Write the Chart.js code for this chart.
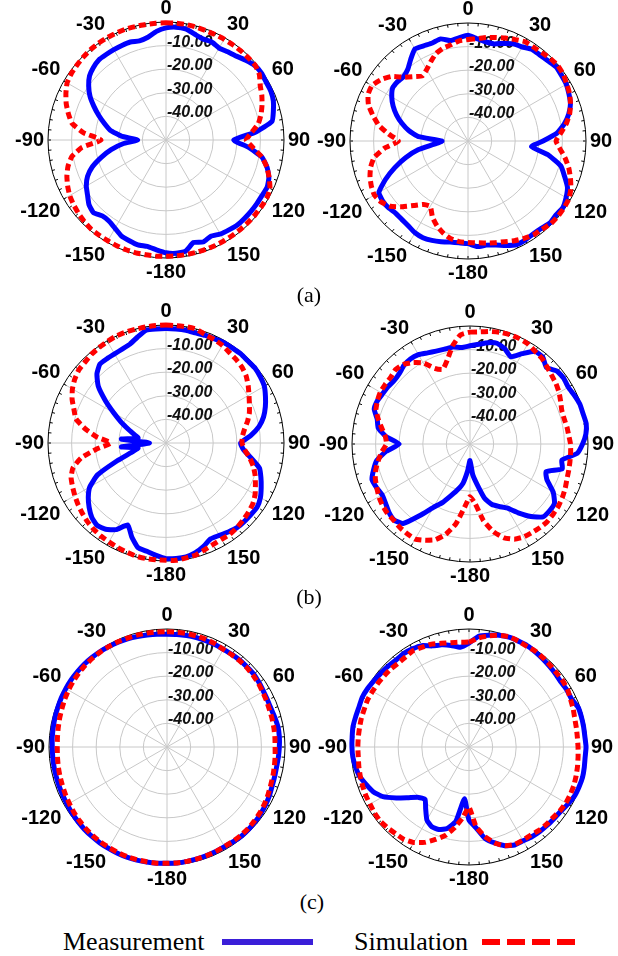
<!DOCTYPE html>
<html>
<head>
<meta charset="utf-8">
<script src="https://cdn.jsdelivr.net/npm/chart.js@4.4.1/dist/chart.umd.min.js"></script>
<style>
  html, body { margin: 0; padding: 0; background: #fff; }
  #page { position: relative; width: 618px; height: 956px; overflow: hidden; background: #fff; }
  .plot { position: absolute; width: 310px; height: 284px; }
  .caption { position: absolute; width: 60px; text-align: center; font-family: "Liberation Serif", "Times New Roman", serif; font-size: 22px; line-height: 22px; color: #000; }
  .legend-text { position: absolute; font-family: "Liberation Serif", "Times New Roman", serif; font-size: 26px; line-height: 26px; color: #000; }
  .legend-line { position: absolute; height: 6px; }
</style>
</head>
<body>
<div id="page">
  <canvas id="aLeft" class="plot" width="310" height="284" style="left:8px;top:-2px"></canvas>
  <canvas id="aRight" class="plot" width="310" height="284" style="left:310px;top:-1px"></canvas>
  <canvas id="bLeft" class="plot" width="310" height="284" style="left:8px;top:301px"></canvas>
  <canvas id="bRight" class="plot" width="310" height="284" style="left:312px;top:302px"></canvas>
  <canvas id="cLeft" class="plot" width="310" height="284" style="left:9px;top:605px"></canvas>
  <canvas id="cRight" class="plot" width="310" height="284" style="left:311px;top:605px"></canvas>

  <div class="caption" style="left:279px;top:284px">(a)</div>
  <div class="caption" style="left:279px;top:586px">(b)</div>
  <div class="caption" style="left:282px;top:891px">(c)</div>

  <div class="legend-text" style="left:63px;top:929px">Measurement</div>
  <div class="legend-line" style="left:222px;top:939px;width:91px;background:#3a1ed8"></div>
  <div class="legend-text" style="left:354px;top:929px">Simulation</div>
  <div class="legend-line" style="left:482px;top:939px;width:93px;background:repeating-linear-gradient(to right,#ff0000 0 18px,transparent 18px 25px)"></div>
</div>

<script>
// Angle axis: one sample every 5 degrees, clockwise from the top
const angleStep = 5;
const angleTickLabels = ['0', '30', '60', '90', '120', '150', '-180', '-150', '-120', '-90', '-60', '-30'];

// Radial axis (dB)
const radialMin = -50;
const radialMax = 0;
const radialTickValues = [-10, -20, -30, -40];
const radialTickLabels = radialTickValues.map(v => v.toFixed(2));

// (a) left
const aLeftMeas = [
  -2.5, -2, -2.2, -3.5, -4.4, -4.2, -5, -4.4, -3.6, -2.2, -0.9, -0.6,
  -1, -1, -1.6, -2.9, -4.4, -12, -21.3, -15, -8.8, -5.7, -3.6, -2.7,
  -3, -3, -3, -3, -3, -3.5, -4, -5, -4, -5, -2.2, -1.8,
  -2.2, -3.3, -4.2, -4, -4.6, -5.2, -6.8, -8, -8, -6.5, -7.4, -9.4,
  -11, -13.3, -16.8, -21.6, -26.4, -31.7, -38, -31, -26, -23, -19.7, -16.3,
  -12.8, -10, -7.7, -6.5, -5.7, -5.8, -5.8, -5.8, -5.8, -6.5, -5.8, -3.8
];
const aLeftSim = [
  -0.3, -0.3, -0.3, -0.5, -0.7, -0.7, -0.7, -0.7, -0.7, -0.7, -0.7, -1.7,
  -3.9, -5.2, -6.7, -8.3, -10.3, -13.6, -16, -13, -8.8, -5.8, -3.5, -1.4,
  -0.7, -0.7, -0.7, -0.7, -0.7, -0.7, -0.7, -0.7, -0.7, -0.7, -0.7, -0.7,
  -0.7, -0.6, -0.6, -0.5, -0.5, -0.6, -0.7, -0.7, -0.7, -1.1, -1.6, -2.2,
  -2.9, -4, -5.3, -7, -9.5, -14.3, -22.5, -15, -9.6, -7.2, -5, -3.2,
  -1.6, -1, -0.7, -0.4, -0.1, 0, 0, 0, 0, -0.2, -0.3, -0.3
];

// (a) right
const aRightMeas = [
  -5.2, -6.5, -7.3, -7.4, -6, -4.5, -4, -2.6, -2.5, -2, -1.2, -1.6,
  -1.9, -2.8, -3.8, -5.8, -8.6, -12.2, -18.2, -23, -15.3, -9.3, -6.5, -3.5,
  -2, -0.9, -1.3, -0.9, -1.7, -1.9, -1.5, -1.5, -2.9, -4.4, -5.2, -5.1,
  -6.5, -6.7, -6.5, -5.8, -5.2, -4.8, -5.1, -6, -6.5, -6.7, -6, -5.8,
  -6.4, -11.4, -17, -22.6, -28.5, -36, -39, -29, -24.5, -21, -17.8, -15,
  -12.7, -11, -11, -11.4, -10.3, -7.7, -5, -5.5, -5.8, -5.2, -6.8, -6.1
];
const aRightSim = [
  -7, -6.5, -5.5, -4.6, -3.6, -2.6, -1.5, -1.5, -1.2, -0.6, -0.3, -0.7,
  -1.7, -2.5, -3.8, -5.4, -7.7, -10.5, -12.7, -10.8, -8.2, -5.8, -3.8, -1.9,
  -0.7, -0.4, -0.3, -0.4, -1.2, -1.5, -2.4, -3.4, -4.6, -5.4, -6.1, -6.7,
  -7, -7.2, -8, -9.6, -11.7, -14.4, -18, -17.2, -14.3, -10.6, -7, -5,
  -4.2, -4.8, -5.8, -7.3, -9.6, -14.4, -20.5, -16.2, -11.6, -8.3, -5.1, -3.3,
  -3, -4.8, -7.5, -11.8, -14.4, -16.3, -15, -12.8, -10.5, -9.3, -8.6, -7.4
];

// (b) left
const bLeftMeas = [
  -1.5, -1.5, -1.5, -1.7, -1.5, -1.3, -0.9, -0.9, -0.7, -0.9, -0.7, -1.2,
  -1.9, -3.5, -5.2, -7.2, -10, -14, -18.4, -17, -13.4, -9, -7.2, -5.5,
  -3.8, -2.8, -2.9, -3, -3.2, -4, -4.8, -5.2, -3.4, -1.9, -1, -0.9,
  -1, -2.2, -3.4, -4.1, -7.6, -11.7, -7.6, -5.4, -4.5, -5.5, -7.5, -9.8,
  -12.7, -18, -28, -35, -38, -31, -43, -31, -38, -36, -33, -29,
  -24.4, -18.6, -12.5, -8.6, -6.4, -6.4, -6.4, -6.1, -5.4, -3.5, -1.5, -1.5
];
const bLeftSim = [
  0, -0.1, 0, -0.1, -1.2, -1.6, -2.2, -3.2, -3.8, -4.5, -5.7, -7.5,
  -9.4, -11, -12.4, -14.2, -16.2, -17.5, -17.8, -16.5, -14, -11.7, -9.8, -8.2,
  -6.4, -5.1, -4.4, -3.8, -3.2, -2.8, -2.9, -2.6, -1.9, -0.9, -0.6, -0.1,
  -0.3, -0.3, -0.3, -0.4, -0.9, -1.2, -1.6, -1.9, -2.3, -2.9, -3.7, -4.5,
  -5.4, -6.3, -7.2, -9.2, -13.5, -20.5, -26.6, -20.6, -15.2, -10.5, -8.5, -6.1,
  -4.2, -2.8, -1.8, -1.5, -0.9, -0.6, -0.3, 0, 0, -0.1, -0.1, 0
];

// (b) right
const bRightMeas = [
  -8.4, -7.6, -6.4, -5.8, -7, -9.2, -5.8, -2, -2, -4.2, -1.9, -1.5,
  -1.9, -1.2, -0.5, -0.4, 0, -0.7, -2.3, -4.4, -10.5, -9.5, -15.7, -14,
  -9.3, -6.3, -6, -6.3, -9.9, -14.4, -18.7, -20.8, -22.7, -26.2, -32.5, -37,
  -43, -38.6, -33.2, -30, -26.8, -22.7, -19, -13, -6, -4.5, -5.1, -6.3,
  -7, -6.3, -5.8, -7.7, -9.9, -14.3, -20, -14.3, -10.5, -9.3, -6.8, -6.7,
  -7.3, -7.6, -8.1, -7.7, -6.5, -6, -6.3, -7.4, -8.1, -8.4, -8.3, -9
];
const bRightSim = [
  -2.6, -2.3, -1.6, -1, -0.7, -0.7, -1, -2, -2.6, -3.8, -4.8, -5.5,
  -6.4, -7.6, -8.6, -8.7, -8.3, -8, -7.4, -7.2, -7, -6.7, -6.3, -5.5,
  -4.8, -4.2, -3.9, -3.6, -3.8, -4.2, -4.5, -5.5, -7.7, -11.5, -17, -24.5,
  -27.7, -23, -15.7, -10.4, -6.8, -5, -3.5, -3.6, -3.8, -4.3, -4.3, -4.7,
  -5.4, -6.4, -7.3, -8.7, -10.6, -12.5, -14.6, -14, -12.1, -9.8, -7.6, -6.7,
  -6.1, -6.1, -6.1, -5.4, -6, -7.9, -10.3, -14.6, -16.3, -13, -7.7, -3.6
];

// (c) left
const cLeftMeas = [
  -2.2, -2.1, -2, -2, -2, -2.1, -2.2, -2.1, -2, -2, -2, -2.4,
  -2.8, -3, -3, -2.6, -2.2, -2.2, -2.4, -2.6, -2.8, -2.7, -2.5, -2,
  -1.6, -1.3, -1, -0.9, -0.8, -1, -1.2, -1.1, -1, -0.9, -0.8, -0.7,
  -0.7, -0.6, -0.5, -0.4, -0.3, -0.3, -0.4, -0.4, -0.5, -0.6, -0.8, -1,
  -1.2, -1.3, -1.4, -1.4, -1.4, -1.4, -1.4, -1.2, -1.1, -0.9, -0.8, -0.6,
  -0.5, -0.4, -0.4, -0.4, -0.5, -0.6, -0.8, -1, -1.2, -1.5, -1.8, -2
];
const cLeftSim = [
  -1.2, -1.2, -1.2, -1.3, -1.5, -1.8, -2.2, -2.2, -2.2, -2.3, -2.5, -2.8,
  -3.2, -3.5, -3.8, -3.9, -4, -4.1, -4.2, -4, -3.8, -3.5, -3.2, -2.7,
  -2.2, -1.8, -1.5, -1.3, -1.2, -1.2, -1.3, -1.1, -1, -0.9, -0.8, -0.7,
  -0.7, -0.6, -0.6, -0.6, -0.6, -0.7, -0.8, -0.9, -1, -1.2, -1.5, -1.8,
  -2.2, -2.5, -2.8, -3, -3.2, -3.4, -3.5, -3.4, -3.2, -2.9, -2.6, -2.2,
  -1.8, -1.5, -1.2, -1, -0.9, -0.8, -0.8, -0.8, -0.9, -0.9, -1, -1.1
];

// (c) right
const cRightMeas = [
  -6, -2.9, -1.9, -1, -0.5, -0.5, -0.5, -0.9, -1.3, -1.7, -2, -2.3,
  -2, -2, -0.8, -0.7, -0.7, -0.7, -0.4, -0.6, -0.4, -0.2, -0.4, -0.7,
  -1.6, -2.5, -2.9, -3.1, -3.3, -3.6, -4.1, -4.2, -5.5, -7.9, -10.6, -15.6,
  -19, -28, -18, -14.3, -12.8, -12.7, -14.3, -18, -21, -19.8, -16.6, -12.4,
  -7.9, -5.2, -3.6, -2, -1.2, -0.6, -0.4, -0.3, -0.1, -0.3, -0.4, -0.1,
  -0.4, -0.9, -1.3, -1.6, -1.9, -1.7, -2, -2.6, -4.4, -5.2, -6.3, -7.6
];
const cRightSim = [
  -5.5, -3.6, -2.2, -1, -0.3, -0.5, -0.8, -0.6, -0.9, -1.2, -1.4, -1.4,
  -1.7, -2.5, -3, -3.6, -3.8, -3.9, -3.8, -3.6, -3.3, -3, -2.7, -2.6,
  -2.6, -2.9, -3.5, -3.6, -3.9, -4.4, -4.4, -4.4, -5.5, -7.9, -11.5, -16.3,
  -24.5, -20, -15.4, -11.2, -8.3, -5.4, -3.3, -2.2, -1.9, -1.4, -1, -1.2,
  -1.6, -1.7, -2, -2.3, -2.6, -2.9, -2.9, -2.9, -2.9, -2.8, -2.8, -2.6,
  -2.8, -2.9, -3.1, -3.2, -3.5, -3.3, -2.8, -3.3, -3.6, -4.5, -5.1, -5.4
];

const COLORS = {
  measurement: '#0000ff',
  simulation: '#ff0000',
  grid: '#c8c8c8',
  frame: '#000000'
};

// one category per sample, only every 30 degrees gets a visible label
const sampleCount = 360 / angleStep;
const labelEvery = 30 / angleStep;
const angleCategories = [];
for (let i = 0; i < sampleCount; i++) {
  angleCategories.push(i % labelEvery === 0 ? angleTickLabels[i / labelEvery] : '');
}

// Radial tick labels (left aligned, sitting on their ring) and the small frame ticks
const polarDecorPlugin = {
  id: 'polarDecor',
  beforeDatasetsDraw(chart) {
    const scale = chart.scales.r;
    const ctx = chart.ctx;
    ctx.save();

    ctx.strokeStyle = COLORS.frame;
    ctx.lineWidth = 1;
    const outer = scale.getDistanceFromCenterForValue(radialMax);
    for (let i = 0; i < sampleCount; i++) {
      const p1 = scale.getPointPosition(i, outer);
      const p2 = scale.getPointPosition(i, outer - 3);
      ctx.beginPath();
      ctx.moveTo(p1.x, p1.y);
      ctx.lineTo(p2.x, p2.y);
      ctx.stroke();
    }

    ctx.font = 'italic bold 16px "Liberation Sans", Arial, sans-serif';
    ctx.fillStyle = '#111111';
    ctx.textAlign = 'left';
    ctx.textBaseline = 'alphabetic';
    radialTickValues.forEach((v, i) => {
      const r = scale.getDistanceFromCenterForValue(v);
      ctx.fillText(radialTickLabels[i], scale.xCenter + 1, scale.yCenter - r + 1);
    });
    ctx.restore();
  }
};

function makePolar(canvasId, measured, simulated) {
  const canvas = document.getElementById(canvasId);
  if (!canvas) return null;

  return new Chart(canvas.getContext('2d'), {
    type: 'radar',
    data: {
      labels: angleCategories,
      datasets: [
        {
          label: 'Measurement',
          data: measured,
          borderColor: COLORS.measurement,
          borderWidth: 5,
          fill: false,
          tension: 0.15,
          pointRadius: 0,
          order: 1
        },
        {
          label: 'Simulation',
          data: simulated,
          borderColor: COLORS.simulation,
          borderWidth: 5,
          borderDash: [7, 4],
          fill: false,
          tension: 0.15,
          pointRadius: 0,
          order: 0
        }
      ]
    },
    options: {
      responsive: false,
      maintainAspectRatio: false,
      animation: false,
      events: [],
      plugins: {
        legend: { display: false },
        tooltip: { enabled: false }
      },
      scales: {
        r: {
          min: radialMin,
          max: radialMax,
          startAngle: 0,
          ticks: { display: false, stepSize: 10 },
          grid: {
            circular: true,
            color: (ctx) => ctx.tick && ctx.tick.value === radialMax ? COLORS.frame : COLORS.grid,
            lineWidth: 1
          },
          angleLines: {
            display: true,
            color: COLORS.grid,
            lineWidth: (ctx) => ctx.index % labelEvery === 0 ? 1 : 0
          },
          pointLabels: {
            display: true,
            padding: 4,
            color: '#000000',
            font: {
              family: '"Liberation Sans", Arial, sans-serif',
              size: 20,
              weight: 'bold',
              lineHeight: 1
            }
          }
        }
      }
    },
    plugins: [polarDecorPlugin]
  });
}

makePolar('aLeft', aLeftMeas, aLeftSim);
makePolar('aRight', aRightMeas, aRightSim);
makePolar('bLeft', bLeftMeas, bLeftSim);
makePolar('bRight', bRightMeas, bRightSim);
makePolar('cLeft', cLeftMeas, cLeftSim);
makePolar('cRight', cRightMeas, cRightSim);
</script>
</body>
</html>
